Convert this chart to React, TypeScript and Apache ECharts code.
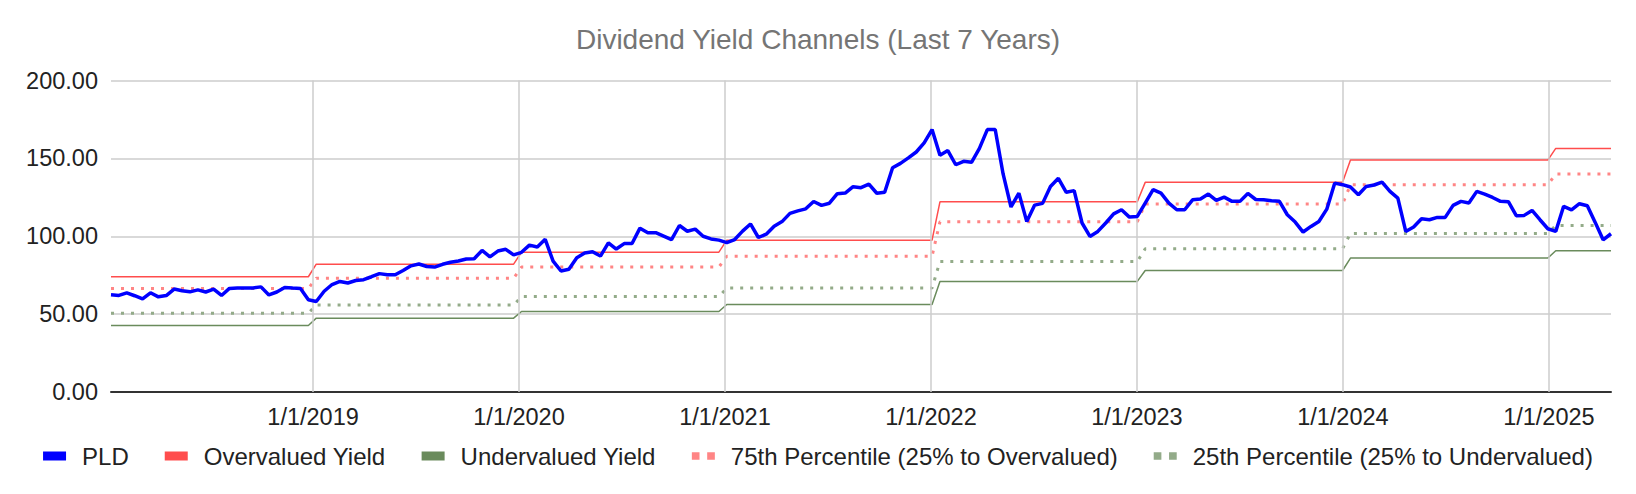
import { useEffect, useRef } from 'react'
import * as echarts from 'echarts'

// biweekly closes, one array per calendar year
const pld2018 = [62.4, 62.0, 63.7, 61.8, 59.8, 63.7, 61.1, 61.9, 66.1, 65.0, 64.3, 65.6, 64.2, 66.1, 62.0, 66.5, 66.8, 66.8, 66.8, 67.5, 62.3, 64.2, 67.1, 66.7, 66.5, 59.2]
const pld2019 = [58.1, 64.7, 69.0, 71.0, 70.0, 71.6, 72.1, 74.0, 76.0, 75.3, 75.3, 78.0, 81.0, 82.2, 80.6, 80.2, 82.0, 83.3, 84.1, 85.4, 85.6, 90.9, 86.8, 90.5, 91.6, 88.0]
const pld2020 = [89.7, 94.3, 93.1, 98.0, 84.0, 77.7, 78.8, 86.2, 89.2, 90.0, 87.3, 95.8, 91.8, 95.3, 95.3, 105.2, 102.3, 102.3, 100.1, 97.8, 106.9, 103.2, 104.6, 100.0, 98.3, 97.5]
const pld2021 = [95.9, 97.9, 103.3, 107.9, 99.2, 101.3, 106.4, 109.4, 114.7, 116.3, 117.6, 122.3, 119.8, 121.2, 127.3, 127.7, 131.8, 131.2, 133.5, 127.6, 128.3, 144.0, 146.8, 150.3, 154.1, 159.9, 168.5]
const pld2022 = [152.0, 155.0, 145.9, 148.1, 147.5, 156.4, 168.5, 168.5, 140.0, 118.8, 127.7, 109.4, 120.0, 121.1, 132.0, 137.2, 128.2, 129.3, 108.5, 99.9, 103.1, 108.5, 114.4, 117.0, 112.3, 112.7]
const pld2023 = [121.3, 129.9, 127.7, 121.3, 117.0, 117.0, 123.4, 123.9, 127.1, 123.0, 125.1, 122.4, 122.4, 127.5, 123.6, 123.4, 122.8, 122.4, 113.8, 109.1, 102.7, 106.3, 109.5, 117.4, 134.1, 133.1]
const pld2024 = [131.6, 126.6, 132.0, 132.9, 134.8, 128.8, 124.5, 103.1, 105.9, 111.2, 110.6, 112.1, 112.1, 119.8, 122.4, 121.3, 128.8, 127.1, 124.9, 122.4, 122.2, 113.2, 113.4, 116.6, 110.6, 104.8]
const pld2025 = [103.1, 119.2, 117.0, 120.9, 119.6, 108.9, 97.7, 101.6]

const pldByYear = [pld2018, pld2019, pld2020, pld2021, pld2022, pld2023, pld2024, pld2025]

// yearly channel levels, 2018..2025
const overvalued = [74.0, 82.1, 89.8, 97.5, 122.1, 134.6, 148.9, 156.4]
const pct75 = [66.5, 73.1, 80.2, 87.2, 109.3, 120.7, 133.1, 139.9]
const pct25 = [50.6, 55.8, 61.3, 66.7, 83.8, 92.0, 101.8, 106.9]
const undervalued = [42.7, 47.4, 51.7, 56.2, 71.0, 78.0, 86.0, 90.7]

const yearTicks = [2019, 2020, 2021, 2022, 2023, 2024, 2025]
const yTicks = [0, 50, 100, 150, 200]

// x is a fractional year; first close is 7 Jan 2018, then every 14 days
const X_START = 2018.019
const X_STEP = 14 / 365.25

const FONT = 'Liberation Sans, Arial, sans-serif'

function buildSeries() {
  const pld: number[][] = []
  const over: number[][] = []
  const under: number[][] = []
  const p75: number[][] = []
  const p25: number[][] = []
  let i = 0
  pldByYear.forEach((vals, y) => {
    vals.forEach((v) => {
      const x = X_START + i * X_STEP
      pld.push([x, v])
      over.push([x, overvalued[y]])
      under.push([x, undervalued[y]])
      p75.push([x, pct75[y]])
      p25.push([x, pct25[y]])
      i++
    })
  })
  return { pld, over, under, p75, p25 }
}

export default function App() {
  const ref = useRef<HTMLDivElement | null>(null)

  useEffect(() => {
    if (!ref.current) return
    const chart = echarts.init(ref.current, null, { renderer: 'svg' })
    const { pld, over, under, p75, p25 } = buildSeries()
    const xMin = pld[0][0]
    const xMax = pld[pld.length - 1][0]
    const dots = 'path://M0,0h4v4h-4zM8,0h4v4h-4z'

    chart.setOption({
      animation: false,
      backgroundColor: '#fff',
      title: {
        text: 'Dividend Yield Channels (Last 7 Years)',
        left: 'center',
        top: 20,
        textStyle: { color: '#757575', fontSize: 28, fontWeight: 'normal', fontFamily: FONT },
      },
      legend: {
        top: 439,
        left: 'center',
        itemWidth: 23,
        itemHeight: 9,
        itemGap: 36,
        textStyle: { color: '#222', fontSize: 24, fontFamily: FONT, padding: [0, 0, 0, 11] },
        data: [
          { name: 'PLD', icon: 'rect' },
          { name: 'Overvalued Yield', icon: 'rect' },
          { name: 'Undervalued Yield', icon: 'rect' },
          { name: '75th Percentile (25% to Overvalued)', icon: dots },
          { name: '25th Percentile (25% to Undervalued)', icon: dots },
        ],
      },
      grid: { left: 111, right: 25, top: 80.5, bottom: 102 },
      xAxis: {
        type: 'value',
        min: xMin,
        max: xMax,
        axisLine: { show: true, onZero: false, lineStyle: { color: '#333', width: 2 } },
        axisTick: { show: false, customValues: yearTicks },
        splitLine: { show: false },
        axisLabel: {
          customValues: yearTicks,
          formatter: (v: number) => `1/1/${Math.round(v)}`,
          color: '#222',
          fontSize: 23.5,
          fontFamily: FONT,
          margin: 13,
        },
      },
      yAxis: {
        type: 'value',
        min: yTicks[0],
        max: yTicks[yTicks.length - 1],
        interval: 50,
        axisLine: { show: false },
        axisTick: { show: false },
        splitLine: { lineStyle: { color: '#cccccc', width: 1.5 } },
        axisLabel: {
          formatter: (v: number) => v.toFixed(2),
          color: '#222',
          fontSize: 23.5,
          fontFamily: FONT,
          margin: 13,
        },
      },
      series: [
        {
          name: 'yearGrid',
          type: 'line',
          data: [],
          z: 1,
          silent: true,
          markLine: {
            silent: true,
            symbol: 'none',
            label: { show: false },
            lineStyle: { color: '#cccccc', width: 1.5, type: 'solid' },
            data: yearTicks.map((y) => ({ xAxis: y })),
          },
        },
        {
          name: 'PLD',
          type: 'line',
          data: pld,
          showSymbol: false,
          z: 5,
          itemStyle: { color: '#0000ff' },
          lineStyle: { color: '#0000ff', width: 3.5 },
        },
        {
          name: 'Overvalued Yield',
          type: 'line',
          data: over,
          showSymbol: false,
          z: 3,
          itemStyle: { color: '#ff4d4d' },
          lineStyle: { color: '#ff4d4d', width: 1.5 },
        },
        {
          name: 'Undervalued Yield',
          type: 'line',
          data: under,
          showSymbol: false,
          z: 3,
          itemStyle: { color: '#6a8b5c' },
          lineStyle: { color: '#6a8b5c', width: 1.5 },
        },
        {
          name: '75th Percentile (25% to Overvalued)',
          type: 'line',
          data: p75,
          showSymbol: false,
          z: 4,
          itemStyle: { color: '#ff8585' },
          lineStyle: { color: '#ff8585', width: 3, type: [3, 7] },
        },
        {
          name: '25th Percentile (25% to Undervalued)',
          type: 'line',
          data: p25,
          showSymbol: false,
          z: 4,
          itemStyle: { color: '#93ab89' },
          lineStyle: { color: '#93ab89', width: 3, type: [3, 7] },
        },
      ],
    })

    return () => chart.dispose()
  }, [])

  return <div ref={ref} style={{ width: 1636, height: 494, margin: -8 }} />
}
